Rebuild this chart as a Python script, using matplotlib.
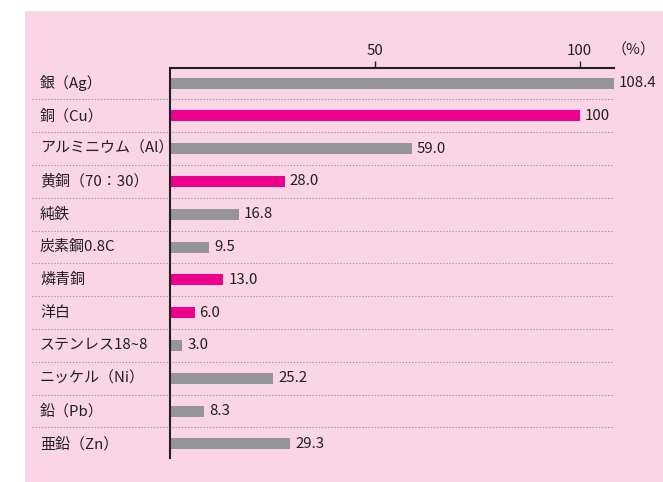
import matplotlib
matplotlib.use("Agg")
import matplotlib.pyplot as plt
from matplotlib.patches import Rectangle
from matplotlib.transforms import offset_copy

plt.rcParams['font.family'] = ['Noto Sans CJK JP', 'DejaVu Sans']

categories = ["銀（Ag）", "銅（Cu）", "アルミニウム（Al）", "黄銅（70：30）", "純鉄",
              "炭素鋼0.8C", "燐青銅", "洋白", "ステンレス18~8", "ニッケル（Ni）",
              "鉛（Pb）", "亜鉛（Zn）"]
values = [108.4, 100, 59.0, 28.0, 16.8, 9.5, 13.0, 6.0, 3.0, 25.2, 8.3, 29.3]
value_labels = ["108.4", "100", "59.0", "28.0", "16.8", "9.5", "13.0", "6.0", "3.0",
                "25.2", "8.3", "29.3"]
highlight = [False, True, False, True, False, False, True, True, False, False, False, False]
xticks = [50, 100]

GRAY = "#939598"
PINK = "#EC008C"
BG = "#F9D5E5"
TXT = "#231f20"
FS = 10.8

W, H = 663, 482
fig = plt.figure(figsize=(W / 100, H / 100), dpi=100)
fig.patch.set_facecolor("white")
bg = fig.add_axes([25 / W, 0, 1 - 25 / W, 1 - 11 / H], zorder=-10)
bg.set_axis_off()
bg.add_patch(Rectangle((0, 0), 1, 1, transform=bg.transAxes, facecolor=BG, edgecolor="none"))

left, right = 170 / W, 614 / W
top, bottom = 1 - 68 / H, 1 - 458 / H
ax = fig.add_axes([left, bottom, right - left, top - bottom], zorder=1)
ax.set_facecolor("none")

n = len(categories)
ys = list(range(n))
colors = [PINK if h else GRAY for h in highlight]
ax.barh(ys, values, height=0.34, color=colors, zorder=3)

ax.set_xlim(0, 108.4)
ax.set_ylim(n - 0.57, -0.46)

for y, v, lab in zip(ys, values, value_labels):
    ax.text(v, y, lab, transform=offset_copy(ax.transData, fig=fig, x=5, y=0, units='dots'),
            ha='left', va='center', fontsize=FS, color=TXT, clip_on=False)

xlab = -(170 - 40) / 444 * 108.4
for y, c in zip(ys, categories):
    ax.text(xlab, y, c, ha='left', va='center', fontsize=FS, color=TXT, clip_on=False)

xsep = -(170 - 32) / 444 * 108.4
for i in range(n - 1):
    yy = i + 0.5
    ax.plot([xsep, 108.4], [yy, yy], linestyle=(0, (1.2, 1.6)),
            color="#9a9a9a", linewidth=0.8, clip_on=False, zorder=2)

for s in ["right", "bottom"]:
    ax.spines[s].set_visible(False)
for s in ["left", "top"]:
    ax.spines[s].set_color(TXT)
    ax.spines[s].set_linewidth(1.5)
ax.spines["left"].set_zorder(4)

ax.xaxis.tick_top()
ax.set_xticks(xticks)
ax.set_xticklabels([str(t) for t in xticks])
ax.tick_params(axis='x', direction='out', length=5, width=1, color=TXT,
               labelsize=FS, labelcolor=TXT, pad=2)
ax.set_yticks([])

fig.text(634 / W, 1 - 50 / H, "（%）", ha='center', va='center', fontsize=FS, color=TXT)

fig.savefig("out.png", dpi=100, facecolor=fig.get_facecolor())
